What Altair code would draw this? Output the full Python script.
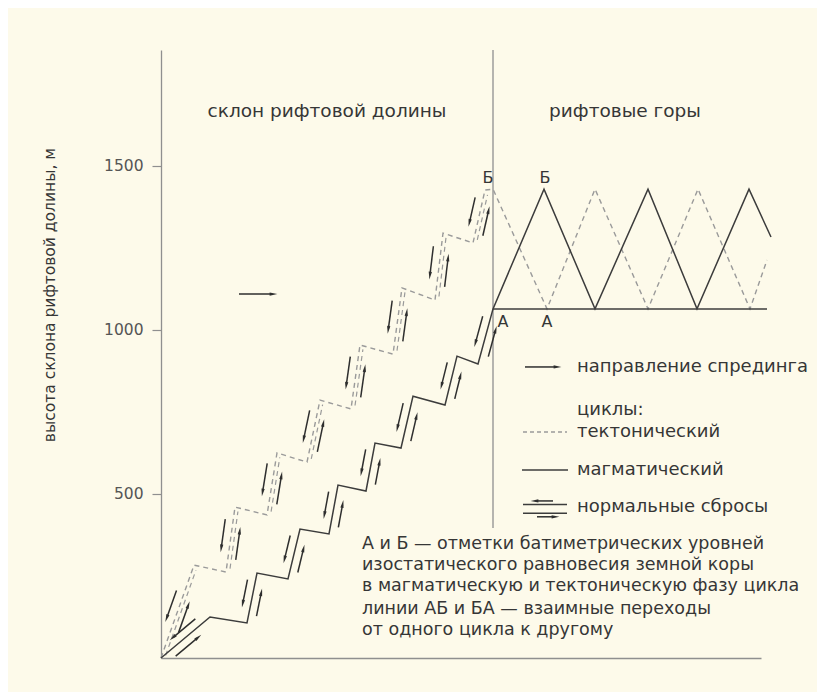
import math
import altair as alt
import pandas as pd

# ---------------- data ----------------
# magmatic cycle (solid): staircase on the rift-valley slope, then zig-zag in the rift mountains
solid_x = [0, 49, 86, 96, 127, 139, 168, 177, 205, 214, 240, 252, 284, 296, 317, 332,
           383, 434, 487, 536, 588, 610]
solid_y = [0, 125, 107, 259, 241, 393, 378, 527, 509, 655, 640, 798, 771, 920, 896, 1064,
           1429, 1064, 1429, 1064, 1429, 1283]
# tectonic cycle (dashed)
dashed_x = [0, 33, 65, 74, 106, 116, 146, 159, 190, 199, 232, 241, 274, 282, 312, 324, 332,
            386, 434, 487, 537, 589, 606]
dashed_y = [0, 283, 262, 460, 436, 625, 597, 786, 759, 954, 926, 1128, 1091, 1295, 1265, 1426, 1429,
            1064, 1429, 1064, 1429, 1064, 1213]
# fault scarps = segments (i, i+1) of each staircase
scarp_idx = [0, 2, 4, 6, 8, 10, 12, 14]

level_A = 1064
level_B = 1429
divider_x = 332
divider_bottom = 396
y_ticks = [500, 1000, 1500]

header_left = "склон рифтовой долины"
header_right = "рифтовые горы"
y_title = "высота склона рифтовой долины, м"
legend_texts = ["направление спрединга", "циклы:", "тектонический", "магматический", "нормальные сбросы"]
note_lines = ["А и Б — отметки батиметрических уровней",
              "изостатического равновесия земной коры",
              "в магматическую и тектоническую фазу цикла",
              "линии АБ и БА — взаимные переходы",
              "от одного цикла к другому"]

# ---------------- geometry helpers ----------------
W, H, YMAX = 600, 608, 1853
K = H / YMAX  # px per metre


def to_s(x, y):
    return x, -y * K


def to_d(sx, sy):
    return sx, -sy / K


shafts = []   # x, y, x2, y2
heads = []    # x, y, angle
twins = []    # second (parallel) line of dashed fault scarps


def arrow_px(tx, ty, hx, hy, head=7.0):
    dx, dy = hx - tx, hy - ty
    L = math.hypot(dx, dy)
    ux, uy = dx / L, dy / L
    ex, ey = hx - ux * head * 0.7, hy - uy * head * 0.7
    a, b = to_d(tx, ty)
    c, d = to_d(ex, ey)
    shafts.append(dict(x=a, y=b, x2=c, y2=d))
    cx, cy = to_d(hx - ux * head / 2, hy - uy * head / 2)
    ang = math.degrees(math.atan2(ux, -uy)) % 360
    heads.append(dict(x=cx, y=cy, angle=ang))


def fault_arrows(xs, ys, i, twin=False):
    bx, by = to_s(xs[i], ys[i])
    tx, ty = to_s(xs[i + 1], ys[i + 1])
    dx, dy = tx - bx, ty - by
    L = math.hypot(dx, dy)
    ux, uy = dx / L, dy / L
    nx, ny = uy, -ux  # left-hand normal on screen
    mx, my = (bx + tx) / 2, (by + ty) / 2
    al = min(0.55 * L, 33)
    off = 8
    # left block moves down
    cx, cy = mx + nx * off + ux * 3, my + ny * off + uy * 3
    arrow_px(cx + ux * al / 2, cy + uy * al / 2, cx - ux * al / 2, cy - uy * al / 2)
    # right block moves up
    cx, cy = mx - nx * off - ux * 3, my - ny * off - uy * 3
    arrow_px(cx - ux * al / 2, cy - uy * al / 2, cx + ux * al / 2, cy + uy * al / 2)
    if twin:
        a, b = to_d(bx - nx * 3.5 + ux * 4, by - ny * 3.5 + uy * 4)
        c, d = to_d(tx - nx * 3.5 - ux * 4, ty - ny * 3.5 - uy * 4)
        twins.append(dict(x=a, y=b, x2=c, y2=d))


for i in scarp_idx:
    fault_arrows(solid_x, solid_y, i)
    fault_arrows(dashed_x, dashed_y, i, twin=True)

# spreading direction arrows (in-plot and legend)
for (x0, x1, yy) in [(78, 117, 1109), (364, 401, 887)]:
    sx0, sy = to_s(x0, yy)
    sx1, _ = to_s(x1, yy)
    arrow_px(sx0, sy, sx1, sy, head=9)

# legend symbol for normal faults
leg_y_top, leg_y_bot = 468, 441
sx0, syt = to_s(362, leg_y_top)
sx1, syb = to_s(406, leg_y_bot)
arrow_px(sx0 + 30, syt - 3.5, sx0 + 8, syt - 3.5, head=7)
arrow_px(sx1 - 30, syb + 3.5, sx1 - 8, syb + 3.5, head=7)

solid_df = pd.DataFrame({"x": solid_x, "y": solid_y, "o": range(len(solid_x))})
dashed_df = pd.DataFrame({"x": dashed_x, "y": dashed_y, "o": range(len(dashed_x))})
shaft_df = pd.DataFrame(shafts)
head_df = pd.DataFrame(heads)
twin_df = pd.DataFrame(twins)

gray_rules = pd.DataFrame([
    dict(x=divider_x, y=divider_bottom, x2=divider_x, y2=YMAX),
])
dark_rules = pd.DataFrame([
    dict(x=divider_x, y=level_A, x2=606, y2=level_A),
    dict(x=361, y=573, x2=407, y2=573),
    dict(x=362, y=leg_y_top, x2=406, y2=leg_y_top),
    dict(x=362, y=leg_y_bot, x2=406, y2=leg_y_bot),
])
dash_rules = pd.DataFrame([dict(x=362, y=689, x2=406, y2=689)])

xs = alt.Scale(domain=[0, W], nice=False, zero=False)
ys = alt.Scale(domain=[0, YMAX], nice=False, zero=False)
FONT = "DejaVu Sans"
TXT = "#363636"
DARK = "#3c3c3c"
DASHC = "#9a9a9a"

X = alt.X("x:Q", scale=xs, axis=alt.Axis(labels=False, ticks=False, grid=False, title=None,
                                         domainColor="#8f8f8f", domainWidth=1.3))
Y = alt.Y("y:Q", scale=ys, axis=alt.Axis(values=y_ticks, format="d", grid=False, title=None, tickSize=9,
                                         tickColor="#8f8f8f", domainColor="#8f8f8f", domainWidth=1.3,
                                         labelFont=FONT, labelFontSize=15.5, labelColor="#555555",
                                         labelPadding=9, tickWidth=1.2))

axes = alt.Chart(pd.DataFrame({"x": [0], "y": [0]})).mark_point(opacity=0).encode(x=X, y=Y)

solid = alt.Chart(solid_df).mark_line(color=DARK, strokeWidth=1.5, clip=False).encode(
    x=alt.X("x:Q", scale=xs), y=alt.Y("y:Q", scale=ys), order="o:Q")
dashed = alt.Chart(dashed_df).mark_line(color=DASHC, strokeWidth=1.4, strokeDash=[5, 4],
                                        clip=False).encode(
    x=alt.X("x:Q", scale=xs), y=alt.Y("y:Q", scale=ys), order="o:Q")


def rules(df, **kw):
    return alt.Chart(df).mark_rule(clip=False, **kw).encode(
        x=alt.X("x:Q", scale=xs), y=alt.Y("y:Q", scale=ys), x2="x2:Q", y2="y2:Q")


gray = rules(gray_rules, color="#8f8f8f", strokeWidth=1.3)
dark = rules(dark_rules, color=DARK, strokeWidth=1.5)
dashr = rules(dash_rules, color=DASHC, strokeWidth=1.4, strokeDash=[4, 3])
twin = rules(twin_df, color=DASHC, strokeWidth=1.2, strokeDash=[5, 4])
shaft = rules(shaft_df, color="#2e2e2e", strokeWidth=1.5)
head = alt.Chart(head_df).mark_point(shape="M0,-1L0.42,1L-0.42,1Z", filled=True, size=60,
                                     color="#2e2e2e", opacity=1, strokeWidth=0, clip=False).encode(
    x=alt.X("x:Q", scale=xs), y=alt.Y("y:Q", scale=ys), angle=alt.Angle("angle:Q", scale=None))

# texts
center_txt = pd.DataFrame([
    dict(x=166, y=1668, t=header_left),
    dict(x=464, y=1668, t=header_right),
])
letters = pd.DataFrame([
    dict(x=327, y=1462, t="Б"), dict(x=384, y=1462, t="Б"),
    dict(x=342, y=1023, t="А"), dict(x=386, y=1023, t="А"),
])
left_txt = pd.DataFrame([
    dict(x=416, y=887, t=legend_texts[0]),
    dict(x=416, y=756, t=legend_texts[1]),
    dict(x=416, y=688, t=legend_texts[2]),
    dict(x=416, y=573, t=legend_texts[3]),
    dict(x=416, y=460, t=legend_texts[4]),
])
notes = pd.DataFrame([
    dict(x=201, y=347, t=note_lines[0]),
    dict(x=201, y=283, t=note_lines[1]),
    dict(x=201, y=219, t=note_lines[2]),
    dict(x=201, y=149, t=note_lines[3]),
    dict(x=201, y=85, t=note_lines[4]),
])
ytitle = pd.DataFrame([dict(x=-111, y=1106, t=y_title)])


def texts(df, size, align="left", angle=0):
    return alt.Chart(df).mark_text(align=align, baseline="middle", font=FONT, fontSize=size,
                                   color=TXT, angle=angle, clip=False).encode(
        x=alt.X("x:Q", scale=xs), y=alt.Y("y:Q", scale=ys), text="t:N")


chart = alt.layer(
    axes, gray, dashed, twin, solid, dark, dashr, shaft, head,
    texts(center_txt, 18.5, "center"),
    texts(letters, 16, "center"),
    texts(left_txt, 18, "left"),
    texts(notes, 17.5, "left"),
    texts(ytitle, 15.5, "center", 270),
).properties(
    width=W, height=H,
    autosize=alt.AutoSizeParams(type="none"),
    padding={"left": 153, "top": 42, "right": 56, "bottom": 34},
    background="#FDFAEA",
).configure_view(stroke=None)

chart.save("out.html", embed_options={"renderer": "svg", "actions": False})
